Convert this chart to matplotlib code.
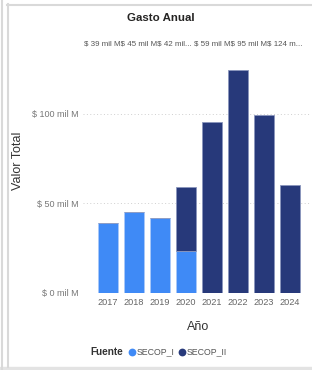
import matplotlib
matplotlib.use("Agg")
import matplotlib.pyplot as plt
from matplotlib.lines import Line2D
from matplotlib.patches import Rectangle
import numpy as np

plt.rcParams["text.parse_math"] = False

# ---- data ----
years = ["2017", "2018", "2019", "2020", "2021", "2022", "2023", "2024"]
secop_i = [39, 45.3, 42, 23.5, 0, 0, 0, 0]
secop_ii = [0, 0, 0, 35.5, 95.4, 124.4, 99.2, 60.3]
yticks = [0, 50, 100]
ytick_labels = ["$ 0 mil M", "$ 50 mil M", "$ 100 mil M"]
series_names = ["SECOP_I", "SECOP_II"]
title = "Gasto Anual"
xlabel = "Año"
ylabel = "Valor Total"
legend_title = "Fuente"

c1 = "#3F8AF6"
c2 = "#27397A"
W, H = 312, 370
FONT = ["Liberation Sans", "DejaVu Sans"]

fig = plt.figure(figsize=(W / 100, H / 100), dpi=100)
fig.patch.set_facecolor("white")
renderer = fig.canvas.get_renderer()


def fx(px):
    return px / W


def fy(py):
    return 1 - py / H


def fit(t, target_w):
    w = t.get_window_extent(renderer=renderer).width
    t.set_fontsize(t.get_fontsize() * target_w / w)


ax_left, ax_right = 83, 310
ax_bottom, ax_top = 292.7, 60.3
ax = fig.add_axes([fx(ax_left), fy(ax_bottom), (ax_right - ax_left) / W, (ax_bottom - ax_top) / H])
x = np.arange(len(years))
ax.bar(x, secop_i, width=0.77, color=c1, edgecolor="#a9c8f8", linewidth=0.6, zorder=3)
ax.bar(x, secop_ii, width=0.77, bottom=secop_i, color=c2, edgecolor="#8a96bd", linewidth=0.6, zorder=3)
ax.set_xlim(-0.96, 7.77)
ax.set_ylim(0, 130)
ax.set_yticks(yticks)
ax.set_yticklabels(ytick_labels, family=FONT, fontsize=6.5, color="#777777")
ax.set_xticks(x)
ax.set_xticklabels(years, family=FONT, fontsize=6.6, color="#666666")
ax.tick_params(length=0, pad=4)
ax.tick_params(axis="y", pad=3)
for s in ax.spines.values():
    s.set_visible(False)
ax.grid(axis="y", color="#cfcfcf", linewidth=0.7, linestyle=(0, (1, 2.5)), zorder=0)
ax.set_axisbelow(True)

# title
tt = fig.text(fx(161), fy(18), title, family=FONT, fontsize=9, fontweight="bold",
              ha="center", va="center", color="#252423")
fit(tt, 67)

# data labels (overlapping / truncated as in the source)
totals = [a + b for a, b in zip(secop_i, secop_ii)]
labs = [f"$ {round(t)} mil M" for t in totals]
shown = [labs[0], labs[1], labs[2][:8] + "... ", labs[3], labs[4], labs[5][:7] + "..."]
dl = fig.text(fx(84), fy(44), "".join(shown), family=FONT, fontsize=6,
              ha="left", va="center", color="#555555")
fit(dl, 222)

# axis labels
yl = fig.text(fx(18), fy(161), ylabel, family=FONT, fontsize=9, rotation=90,
              ha="center", va="center", color="#333333")
xl = fig.text(fx(198), fy(327), xlabel, family=FONT, fontsize=9,
              ha="center", va="center", color="#333333")

# legend
ly = fy(352)
lt = fig.text(fx(90), ly, legend_title, family=FONT, fontsize=7, fontweight="bold",
              ha="left", va="center", color="#333333")
fit(lt, 33)
for cx, col, name, tw in [(132, c1, series_names[0], 38), (182, c2, series_names[1], 40)]:
    fig.add_artist(Line2D([fx(cx)], [ly], marker="o", markersize=5.6, color=col,
                          markeredgewidth=0, transform=fig.transFigure))
    lbl = fig.text(fx(cx + 5), ly, name, family=FONT, fontsize=7, ha="left",
                   va="center", color="#555555")
    fit(lbl, tw)

# frame lines
g = "#d9d9d9"
fig.add_artist(Line2D([fx(1.5), fx(1.5)], [0, 1], color=g, linewidth=1.5, transform=fig.transFigure))
fig.add_artist(Line2D([fx(7.5), fx(7.5)], [fy(367), fy(4)], color=g, linewidth=1.5, transform=fig.transFigure))
fig.add_artist(Line2D([fx(7), 1], [fy(4.5), fy(4.5)], color=g, linewidth=1.5, transform=fig.transFigure))
fig.add_artist(Rectangle((0, 0), 1, 3.5 / H, color="#e3e3e3", transform=fig.transFigure))

fig.savefig("out.png", dpi=100)
